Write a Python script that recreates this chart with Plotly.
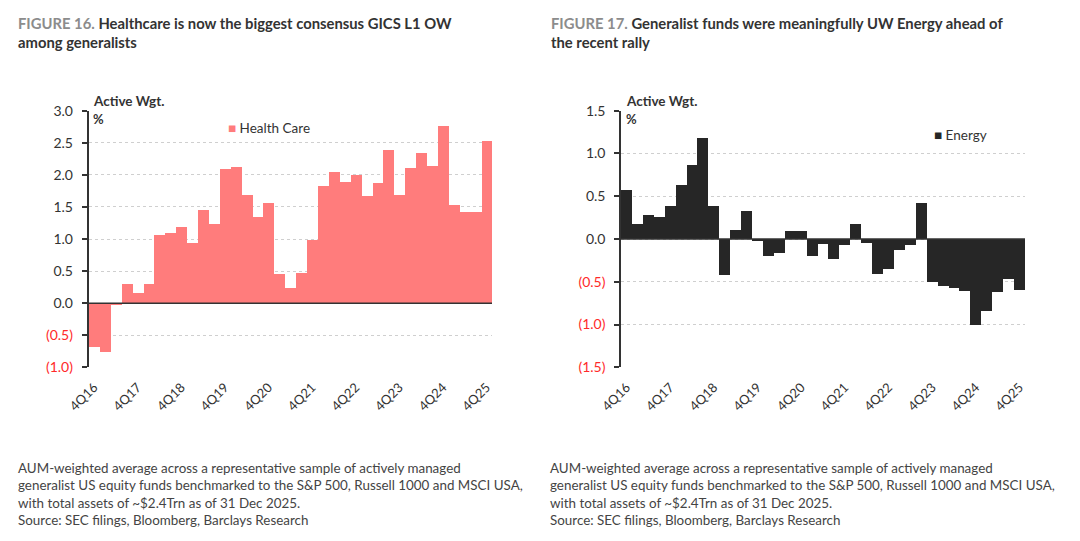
import plotly.graph_objects as go

quarters = [f"{q}Q{y}" for y in range(16, 26) for q in (1, 2, 3, 4)][3:]  # 4Q16..4Q25
tick_labels = ["4Q16", "4Q17", "4Q18", "4Q19", "4Q20", "4Q21", "4Q22", "4Q23", "4Q24", "4Q25"]

health_care = [-0.68, -0.75, -0.03, 0.30, 0.16, 0.30, 1.06, 1.10, 1.19, 0.95,
               1.45, 1.24, 2.10, 2.12, 1.69, 1.35, 1.56, 0.46, 0.24, 0.48,
               0.99, 1.83, 2.05, 1.90, 2.00, 1.67, 1.88, 2.39, 1.69, 2.11,
               2.35, 2.14, 2.77, 1.54, 1.43, 1.42, 2.54]

energy = [0.58, 0.18, 0.29, 0.26, 0.39, 0.63, 0.87, 1.18, 0.39, -0.42,
          0.11, 0.33, -0.01, -0.20, -0.16, 0.10, 0.10, -0.19, -0.06, -0.23,
          -0.07, 0.18, -0.04, -0.40, -0.35, -0.12, -0.07, 0.43, -0.50, -0.55,
          -0.57, -0.60, -1.00, -0.84, -0.62, -0.46, -0.59]

left_ticks = [-1.0, -0.5, 0.0, 0.5, 1.0, 1.5, 2.0, 2.5, 3.0]
right_ticks = [-1.5, -1.0, -0.5, 0.0, 0.5, 1.0, 1.5]

FONT = "Lato"
DARK = "#333333"
RED = "#FF2A2A"
PINK = "#FF7C7C"
BLACK = "#262626"


def tick_text(vals):
    out = []
    for v in vals:
        if v < 0:
            out.append(f"<span style='color:{RED}'>({abs(v):.1f})</span>")
        else:
            out.append(f"{v:.1f}")
    return out


W, H = 1080, 541


def px_x(p):
    return p / W


def px_y(p):
    return 1 - p / H


fig = go.Figure()
fig.add_trace(go.Bar(x=quarters, y=health_care, marker=dict(color=PINK, line=dict(width=0)),
                     name="Health Care", xaxis="x", yaxis="y", showlegend=False))
fig.add_trace(go.Bar(x=quarters, y=energy, marker=dict(color=BLACK, line=dict(width=0)),
                     name="Energy", xaxis="x2", yaxis="y2", showlegend=False))

ydom = [px_y(367.3), px_y(110.7)]

xaxis_common = dict(
    type="category", tickmode="array", tickvals=tick_labels, ticktext=tick_labels,
    tickangle=-45, showgrid=False, showline=False, ticks="", zeroline=False,
    tickfont=dict(family=FONT, size=13, color=DARK), fixedrange=True, automargin=False,
    ticklabelstandoff=9,
)
yaxis_common = dict(
    tickmode="array", showgrid=True, gridcolor="#CFCFCF", griddash="dot", gridwidth=1,
    zeroline=False, showline=True, linecolor=DARK, linewidth=1.5,
    ticks="outside", ticklen=5, tickwidth=1.5, tickcolor=DARK, automargin=False,
    tickfont=dict(family=FONT, size=14, color=DARK), ticklabelstandoff=6, fixedrange=True,
)

fig.update_layout(
    template="none",
    width=W, height=H, autosize=False,
    margin=dict(l=0, r=0, t=0, b=0, pad=0, autoexpand=False),
    paper_bgcolor="white", plot_bgcolor="white",
    bargap=0,
    showlegend=False,
    font=dict(family=FONT, color=DARK),
    xaxis=dict(domain=[px_x(88.5), px_x(492)], anchor="y", **xaxis_common),
    yaxis=dict(domain=ydom, anchor="x", range=[-1.0, 3.0], tickvals=left_ticks,
               ticktext=tick_text(left_ticks), **yaxis_common),
    xaxis2=dict(domain=[px_x(621), px_x(1025)], anchor="y2", **xaxis_common),
    yaxis2=dict(domain=ydom, anchor="x2", range=[-1.5, 1.5], tickvals=right_ticks,
                ticktext=tick_text(right_ticks), **yaxis_common),
)

# zero lines above bars
for xr, yr in (("x domain", "y"), ("x2 domain", "y2")):
    fig.add_shape(type="line", xref=xr, yref=yr, x0=0, x1=1, y0=0, y1=0,
                  line=dict(color=DARK, width=1.5), layer="above")

ann = []


def text(x, y, s, size, color=DARK, xanchor="left", yanchor="middle", align="left"):
    ann.append(dict(xref="paper", yref="paper", x=px_x(x), y=px_y(y), text=s, showarrow=False,
                    xanchor=xanchor, yanchor=yanchor, align=align,
                    font=dict(family=FONT, size=size, color=color)))


# titles
text(16, 12, "<b><span style='color:#8C8C8C'>FIGURE 16.</span> Healthcare is now the biggest consensus GICS L1 OW<br>among generalists</b>",
     14.8, yanchor="top")
text(549, 12, "<b><span style='color:#8C8C8C'>FIGURE 17.</span> Generalist funds were meaningfully UW Energy ahead of<br>the recent rally</b>",
     14.8, yanchor="top")

# axis captions
for x0 in (91, 624):
    text(x0, 101, "<b>Active Wgt.</b>", 13.5)
    text(x0, 119, "<b>%</b>", 13)

# legends
text(226, 128, f"<span style='color:{PINK}'>■</span> Health Care", 13.5)
text(932, 135, f"<span style='color:{BLACK}'>■</span> Energy", 13.5)

note = ("AUM-weighted average across a representative sample of actively managed<br>"
        "generalist US equity funds benchmarked to the S&P 500, Russell 1000 and MSCI USA,<br>"
        "with total assets of ~$2.4Trn as of 31 Dec 2025.<br>"
        "Source: SEC filings, Bloomberg, Barclays Research")
text(16, 458, note, 13.4, color="#444444", yanchor="top")
text(548, 458, note, 13.4, color="#444444", yanchor="top")

fig.update_layout(annotations=ann)

fig.write_html("out.html", config={"displayModeBar": False},
               post_script="document.body.style.margin='0px';")
